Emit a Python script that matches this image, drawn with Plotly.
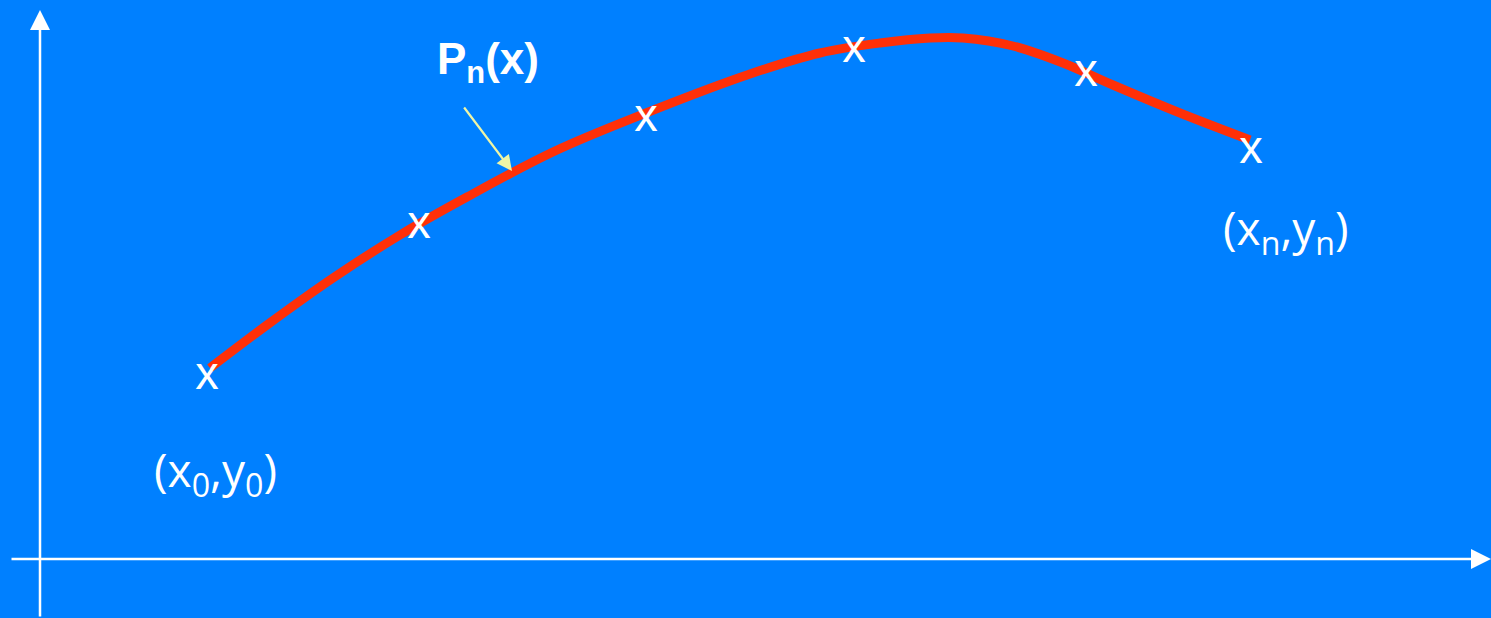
import plotly.graph_objects as go

# coordinates measured from the axis origin (bottom-left corner of the sketch)
curve_x = [170, 227, 293, 360, 427, 515, 606, 710, 780, 840, 890, 923, 973, 1023, 1073, 1140, 1210]
curve_y = [191, 234, 281, 324, 362, 408, 446, 485, 506, 516, 521, 521, 513, 496, 474, 446, 419]

node_x = [167, 379, 606, 814, 1046, 1211]
node_y = [182, 333, 440, 509, 485, 408]
node_text = ["x"] * len(node_x)

labels = ["<b>P<sub>n</sub>(x)</b>", "(x<sub>0</sub>,y<sub>0</sub>)", "(x<sub>n</sub>,y<sub>n</sub>)"]
label_x = [448, 175, 1246]
label_y = [497, 87, 329]

BG = "#0080FF"

fig = go.Figure()
fig.add_trace(go.Scatter(
    x=curve_x, y=curve_y, mode="lines",
    line=dict(color="#FF3008", width=9, shape="spline", smoothing=1.0),
    hoverinfo="skip"))
fig.add_trace(go.Scatter(
    x=node_x, y=node_y, mode="text", text=node_text,
    textposition="middle center",
    textfont=dict(family="Liberation Sans, Arial", size=47, color="white"),
    hoverinfo="skip"))

# axes drawn as arrows
fig.add_annotation(x=0, y=549, ax=0, ay=-59, axref="x", ayref="y",
                   text="", showarrow=True, arrowhead=2, arrowsize=1.6,
                   arrowwidth=2.5, arrowcolor="white")
fig.add_annotation(x=1451, y=0, ax=-30, ay=0, axref="x", ayref="y",
                   text="", showarrow=True, arrowhead=2, arrowsize=1.6,
                   arrowwidth=2.5, arrowcolor="white")
# pointer to the curve
fig.add_annotation(x=472, y=388, ax=423, ay=453, axref="x", ayref="y",
                   text="", showarrow=True, arrowhead=2, arrowsize=1.4,
                   arrowwidth=2.2, arrowcolor="#EEF5A6")

fig.add_annotation(x=label_x[0], y=label_y[0], text=labels[0], showarrow=False,
                   font=dict(family="Liberation Sans, Arial", size=44, color="white"))
for lx, ly, lt in zip(label_x[1:], label_y[1:], labels[1:]):
    fig.add_annotation(x=lx, y=ly, text=lt, showarrow=False,
                       font=dict(family="Open Sans", size=46, color="white"))

fig.update_xaxes(range=[-40, 1451], visible=False)
fig.update_yaxes(range=[-59, 559], visible=False)
fig.update_layout(
    width=1491, height=618,
    margin=dict(l=0, r=0, t=0, b=0),
    paper_bgcolor=BG, plot_bgcolor=BG,
    showlegend=False)

fig.write_html("out.html", config={"displayModeBar": False},
               post_script="document.body.style.margin='0';"
                           "document.body.style.overflow='hidden';"
                           "document.body.style.background='%s';" % BG)
